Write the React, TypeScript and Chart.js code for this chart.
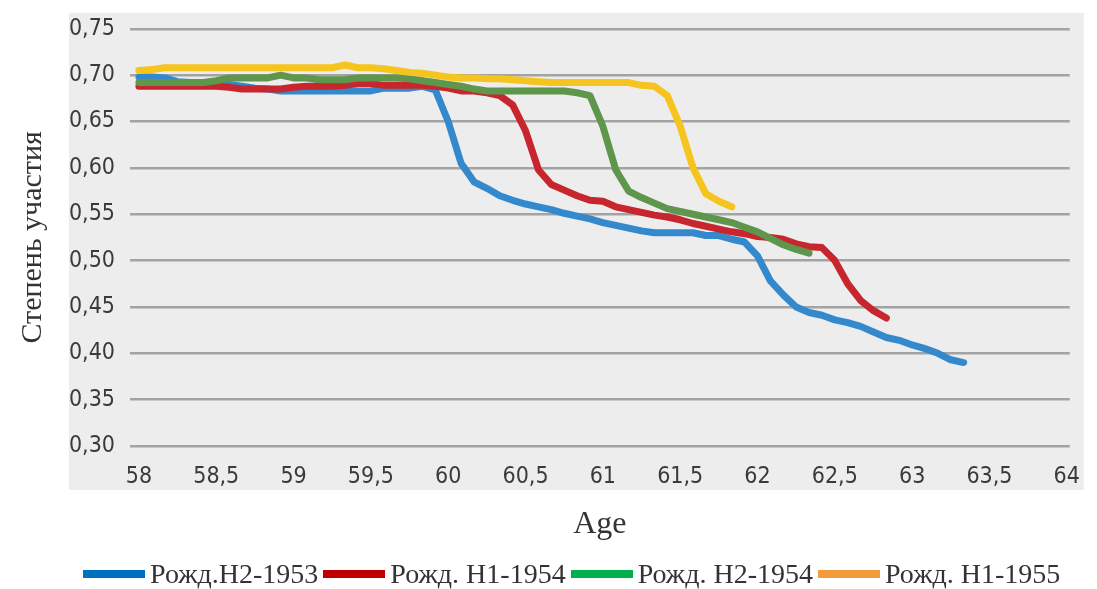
import React, { useEffect, useRef } from "react";
import { Chart, registerables } from "chart.js";

Chart.register(...registerables);

// ---- data ----
const startAge = 58;
const monthsPerYear = 12;

const seriesNames = ["Рожд.H2-1953", "Рожд. H1-1954", "Рожд. H2-1954", "Рожд. H1-1955"];

const blueValues = [
  0.698, 0.698, 0.697, 0.693, 0.692, 0.692, 0.692, 0.690, 0.688, 0.686,
  0.685, 0.683, 0.683, 0.683, 0.683, 0.683, 0.683, 0.683, 0.683, 0.686,
  0.686, 0.686, 0.688, 0.684, 0.650, 0.605, 0.585, 0.578, 0.570, 0.565,
  0.561, 0.558, 0.555, 0.551, 0.548, 0.545, 0.541, 0.538, 0.535, 0.532,
  0.530, 0.530, 0.530, 0.530, 0.527, 0.527, 0.523, 0.520, 0.505, 0.478,
  0.463, 0.450, 0.444, 0.441, 0.436, 0.433, 0.429, 0.423, 0.417, 0.414,
  0.409, 0.405, 0.400, 0.393, 0.390,
];

const redValues = [
  0.688, 0.688, 0.688, 0.688, 0.688, 0.688, 0.688, 0.687, 0.685, 0.685,
  0.685, 0.685, 0.687, 0.688, 0.688, 0.688, 0.689, 0.691, 0.691, 0.689,
  0.689, 0.689, 0.689, 0.688, 0.686, 0.683, 0.683, 0.681, 0.678, 0.668,
  0.640, 0.598, 0.582, 0.576, 0.570, 0.565, 0.564, 0.558, 0.555, 0.552,
  0.549, 0.547, 0.544, 0.540, 0.537, 0.534, 0.531, 0.529, 0.526, 0.525,
  0.523, 0.518, 0.515, 0.514, 0.500, 0.475, 0.457, 0.446, 0.438,
];

const greenValues = [
  0.692, 0.692, 0.692, 0.692, 0.692, 0.692, 0.694, 0.697, 0.697, 0.697,
  0.697, 0.700, 0.697, 0.697, 0.695, 0.695, 0.695, 0.697, 0.697, 0.697,
  0.697, 0.696, 0.694, 0.692, 0.690, 0.688, 0.685, 0.683, 0.683, 0.683,
  0.683, 0.683, 0.683, 0.683, 0.681, 0.678, 0.645, 0.598, 0.575, 0.568,
  0.562, 0.556, 0.553, 0.550, 0.547, 0.544, 0.541, 0.536, 0.531, 0.524,
  0.517, 0.512, 0.508,
];

const yellowValues = [
  0.705, 0.706, 0.708, 0.708, 0.708, 0.708, 0.708, 0.708, 0.708, 0.708,
  0.708, 0.708, 0.708, 0.708, 0.708, 0.708, 0.711, 0.708, 0.708, 0.707,
  0.705, 0.703, 0.702, 0.700, 0.698, 0.697, 0.697, 0.696, 0.696, 0.695,
  0.694, 0.693, 0.692, 0.692, 0.692, 0.692, 0.692, 0.692, 0.692, 0.689,
  0.688, 0.678, 0.645, 0.600, 0.572, 0.564, 0.558,
];

const xTickValues = [58, 58.5, 59, 59.5, 60, 60.5, 61, 61.5, 62, 62.5, 63, 63.5, 64];
const yTickValues = [0.3, 0.35, 0.4, 0.45, 0.5, 0.55, 0.6, 0.65, 0.7, 0.75];

const lineColors = ["#3489cd", "#c8262e", "#5e964c", "#f6c41e"];
const legendColors = ["#0070c0", "#c00000", "#00b050", "#f39a3a"];

const toPoints = (values: number[]) =>
  values.map((v, k) => ({ x: startAge + k / monthsPerYear, y: v }));

const allSeries = [blueValues, redValues, greenValues, yellowValues];

const tickFont = "'Liberation Sans Narrow', 'DejaVu Sans Condensed', 'Roboto', sans-serif";
const serifFont = "'Liberation Serif', 'DejaVu Serif', serif";

const bgPlugin = {
  id: "greyBg",
  beforeDraw(chart: any) {
    const { ctx, chartArea: a } = chart;
    ctx.save();
    ctx.fillStyle = "#ededed";
    const left = a.left - 61;
    const top = a.top - 16;
    const right = a.right + 14;
    const bottom = a.bottom + 44;
    ctx.fillRect(left, top, right - left, bottom - top);
    ctx.restore();
  },
};

export default function App() {
  const canvasRef = useRef<HTMLCanvasElement | null>(null);

  useEffect(() => {
    if (!canvasRef.current) return;
    const chart = new Chart(canvasRef.current, {
      type: "line",
      data: {
        datasets: allSeries.map((vals, i) => ({
          label: seriesNames[i],
          data: toPoints(vals),
          borderColor: lineColors[i],
          backgroundColor: legendColors[i],
          borderWidth: 7,
          pointRadius: 0,
          tension: 0,
          borderJoinStyle: "round" as const,
          borderCapStyle: "round" as const,
          order: allSeries.length - 1 - i,
        })),
      },
      options: {
        animation: false,
        responsive: false,
        maintainAspectRatio: false,
        layout: { padding: { top: 22.7, right: 19, bottom: 0, left: 0 } },
        plugins: {
          legend: { display: false },
          tooltip: { enabled: false },
        },
        scales: {
          x: {
            type: "linear",
            min: 58 - 9 / 156,
            max: 64 + 3 / 156,
            afterBuildTicks: (axis: any) => {
              axis.ticks = xTickValues.map((v) => ({ value: v }));
            },
            afterFit: (scale: any) => {
              scale.height = 143;
            },
            grid: { display: false, drawTicks: false },
            border: { display: false },
            ticks: {
              padding: 17,
              autoSkip: false,
              maxRotation: 0,
              color: "#3a3a3a",
              font: { family: tickFont, size: 23 },
              callback: (v: any) => String(v).replace(".", ","),
            },
            title: {
              display: true,
              text: "Age",
              color: "#333",
              font: { family: serifFont, size: 32 },
              padding: { top: 0, bottom: 45 },
            },
          },
          y: {
            type: "linear",
            min: 0.3,
            max: 0.75,
            afterBuildTicks: (axis: any) => {
              axis.ticks = yTickValues.map((v) => ({ value: v }));
            },
            afterFit: (scale: any) => {
              scale.width = 130;
            },
            grid: { color: "#a3a3a3", lineWidth: 2.5, drawTicks: false },
            border: { display: false },
            ticks: {
              padding: 15,
              color: "#3a3a3a",
              font: { family: tickFont, size: 23 },
              callback: (v: any) => Number(v).toFixed(2).replace(".", ","),
            },
            title: {
              display: true,
              text: "Степень участия",
              color: "#333",
              font: { family: serifFont, size: 30 },
              padding: { top: 15, bottom: 0 },
            },
          },
        },
      },
      plugins: [bgPlugin],
    });
    return () => chart.destroy();
  }, []);

  return (
    <div style={{ position: "absolute", left: 0, top: 0, width: 1097, height: 589, background: "#fff" }}>
      <canvas ref={canvasRef} width={1097} height={589} style={{ position: "absolute", left: 0, top: 0 }} />
      <div
        style={{
          position: "absolute",
          left: 83,
          top: 558,
          display: "flex",
          alignItems: "center",
          whiteSpace: "nowrap",
          fontFamily: serifFont,
          fontSize: 28,
          color: "#333",
        }}
      >
        {seriesNames.map((name, i) => (
          <div key={name} style={{ display: "flex", alignItems: "center", marginRight: 5 }}>
            <div style={{ width: 62, height: 8, background: legendColors[i], marginRight: 5 }} />
            <span>{name}</span>
          </div>
        ))}
      </div>
    </div>
  );
}
